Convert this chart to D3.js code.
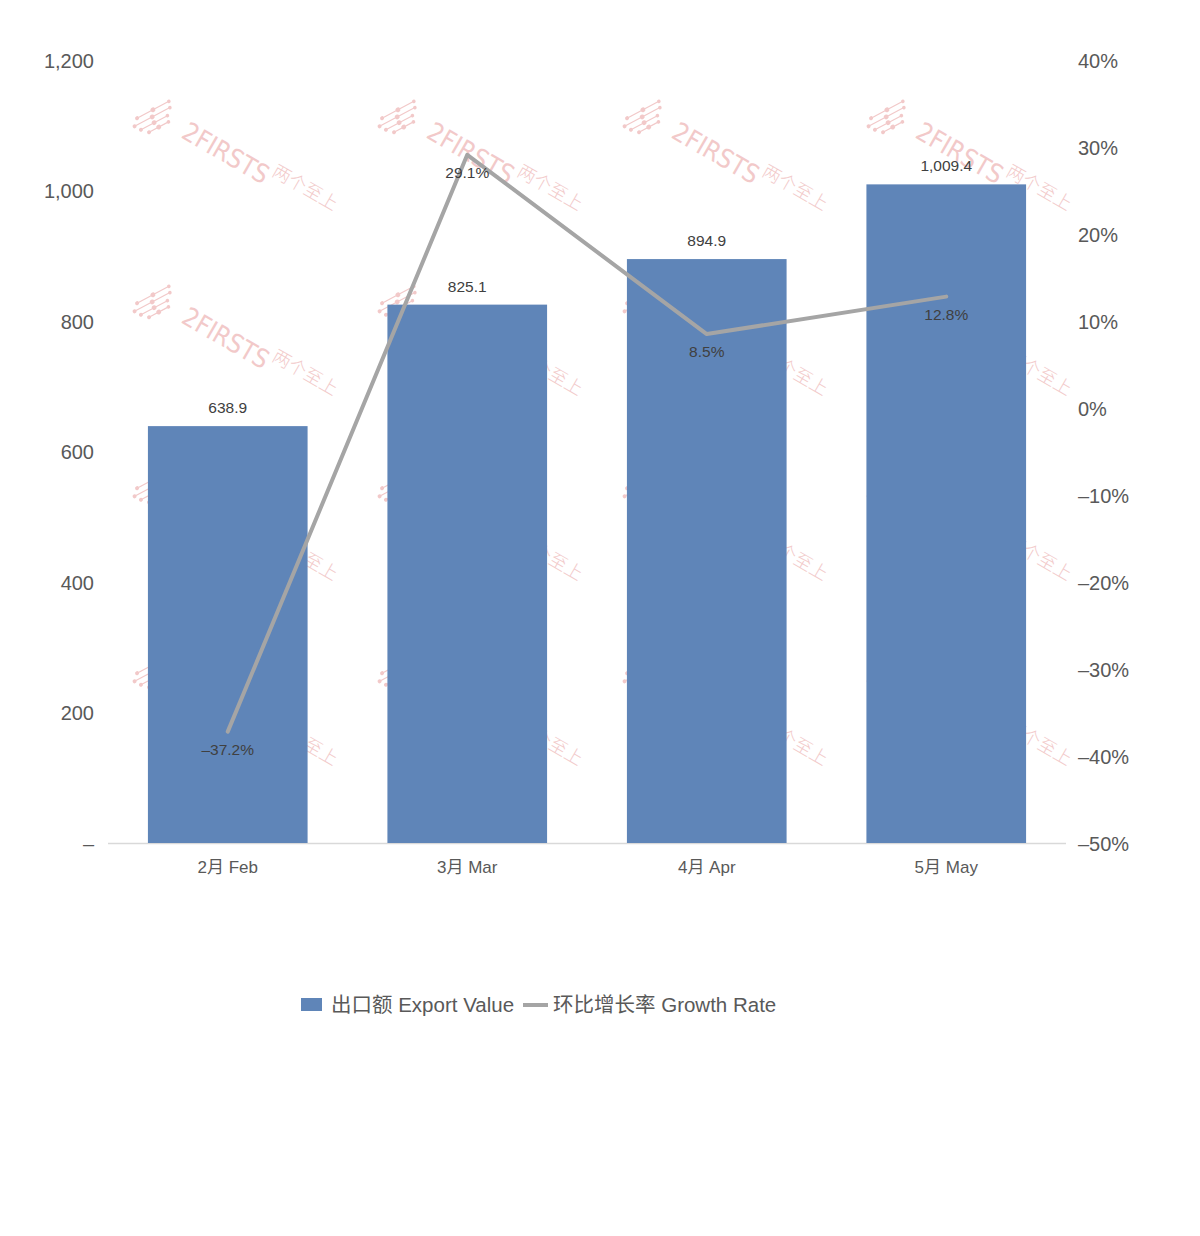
<!DOCTYPE html>
<html><head><meta charset="utf-8">
<script src="https://cdn.jsdelivr.net/npm/d3@7"></script>
<style>body{margin:0;background:#fff;}svg{display:block;font-family:"Liberation Sans","Noto Sans CJK SC",sans-serif;}</style>
</head><body><svg id="c" width="1200" height="1236"></svg>
<script>
const categories = ["2月 Feb","3月 Mar","4月 Apr","5月 May"];
const exportValue = [638.9, 825.1, 894.9, 1009.4];
const growthRate = [-37.2, 29.1, 8.5, 12.8];
const leftTicks = [0,200,400,600,800,1000,1200];
const rightTicks = [-50,-40,-30,-20,-10,0,10,20,30,40];
const seriesNames = ["出口额 Export Value","环比增长率 Growth Rate"];

const svg = d3.select("#c");
const x = d3.scaleBand().domain(categories).range([108,1066]).paddingInner(1/3).paddingOuter(1/6);
const yL = d3.scaleLinear().domain([0,1200]).range([843,60]);
const yR = d3.scaleLinear().domain([-50,40]).range([843,60]);

// watermark
const wm = svg.append("g").attr("fill","#f2c9c9").attr("stroke","#f2c9c9");
const wmX = [130,375,620,864], wmY = [95,280,465,650];
wmY.forEach((wy)=>wmX.forEach((wx)=>{
  const g = wm.append("g").attr("transform",`translate(${wx},${wy})`);
  const ic = g.append("g").attr("transform","translate(28,20) rotate(-28)");
  [[-20,-7,22],[-26,-1,26],[-22,5,16],[-16,11,8]].forEach(([x0,yy,len])=>{
    ic.append("line").attr("x1",x0).attr("x2",x0+len+14).attr("y1",yy).attr("y2",yy).attr("stroke-width",1.2);
    ic.append("circle").attr("cx",x0).attr("cy",yy).attr("r",2).attr("stroke","none");
    ic.append("circle").attr("cx",x0+len/2+7).attr("cy",yy).attr("r",2.4).attr("stroke","none");
    ic.append("circle").attr("cx",x0+len+14).attr("cy",yy).attr("r",1.8).attr("stroke","none");
  });
  g.append("text").attr("transform","translate(50,42) rotate(30)")
    .attr("stroke","none").attr("font-family","'DejaVu Sans Condensed','Liberation Sans Narrow',sans-serif")
    .attr("font-weight",200).attr("font-size",26).attr("letter-spacing",0)
    .text("2FIRSTS");
  g.append("text").attr("transform","translate(141,80) rotate(30)")
    .attr("stroke","none").attr("font-family","'Noto Sans CJK SC'").attr("font-weight",300).attr("font-size",18).text("两个至上");
}));

// baseline
svg.append("line").attr("x1",108).attr("x2",1066).attr("y1",843.5).attr("y2",843.5).attr("stroke","#d9d9d9").attr("stroke-width",1.5);

// bars
svg.append("g").selectAll("rect").data(exportValue).join("rect")
  .attr("x",(d,i)=>x(categories[i])).attr("width",x.bandwidth())
  .attr("y",d=>yL(d)).attr("height",d=>yL(0)-yL(d)).attr("fill","#5f85b8");

// bar labels
svg.append("g").selectAll("text").data(exportValue).join("text")
  .attr("x",(d,i)=>x(categories[i])+x.bandwidth()/2).attr("y",d=>yL(d)-13)
  .attr("text-anchor","middle").attr("font-size",15.5).attr("fill","#404040")
  .text(d=>d3.format(",.1f")(d));

// line
const cx = (i)=>x(categories[i])+x.bandwidth()/2;
svg.append("path").datum(growthRate)
  .attr("d",d3.line().x((d,i)=>cx(i)).y(d=>yR(d)))
  .attr("fill","none").attr("stroke","#a5a5a5").attr("stroke-width",4).attr("stroke-linecap","round").attr("stroke-linejoin","round");
svg.append("g").selectAll("text").data(growthRate).join("text")
  .attr("x",(d,i)=>cx(i)).attr("y",d=>yR(d)+23)
  .attr("text-anchor","middle").attr("font-size",15.5).attr("fill","#404040")
  .text(d=>(d<0?"–":"")+Math.abs(d).toFixed(1)+"%");

// left axis
const axL = d3.axisLeft(yL).tickValues(leftTicks).tickSize(0).tickPadding(0)
  .tickFormat(d=>d===0?"–":d3.format(",")(d));
const gL = svg.append("g").attr("transform","translate(94,0)").call(axL);
gL.select(".domain").remove();
gL.selectAll("text").attr("font-size",20).attr("fill","#595959").attr("font-family","'Liberation Sans',sans-serif").attr("dy","0.35em");

// right axis
const axR = d3.axisRight(yR).tickValues(rightTicks).tickSize(0).tickPadding(0)
  .tickFormat(d=>(d<0?"–":"")+Math.abs(d)+"%");
const gR = svg.append("g").attr("transform","translate(1078,0)").call(axR);
gR.select(".domain").remove();
gR.selectAll("text").attr("font-size",20).attr("fill","#595959").attr("font-family","'Liberation Sans',sans-serif").attr("dy","0.35em");

// x axis
const axX = d3.axisBottom(x).tickSize(0).tickPadding(0);
const gX = svg.append("g").attr("transform","translate(0,867)").call(axX);
gX.select(".domain").remove();
gX.selectAll("text").attr("font-size",17).attr("fill","#595959").attr("font-family","'Liberation Sans','Noto Sans CJK SC',sans-serif").attr("dy","0.35em");

// legend
const lg = svg.append("g").attr("font-size",20.5).attr("fill","#595959");
lg.append("rect").attr("x",301).attr("y",998).attr("width",21).attr("height",13).attr("fill","#5f85b8");
lg.append("text").attr("x",331).attr("y",1005).attr("dy","0.35em").attr("fill","#595959").text(seriesNames[0]);
lg.append("line").attr("x1",523).attr("x2",548).attr("y1",1005).attr("y2",1005).attr("stroke","#a5a5a5").attr("stroke-width",4);
lg.append("text").attr("x",553).attr("y",1005).attr("dy","0.35em").attr("fill","#595959").text(seriesNames[1]);
</script></body></html>
